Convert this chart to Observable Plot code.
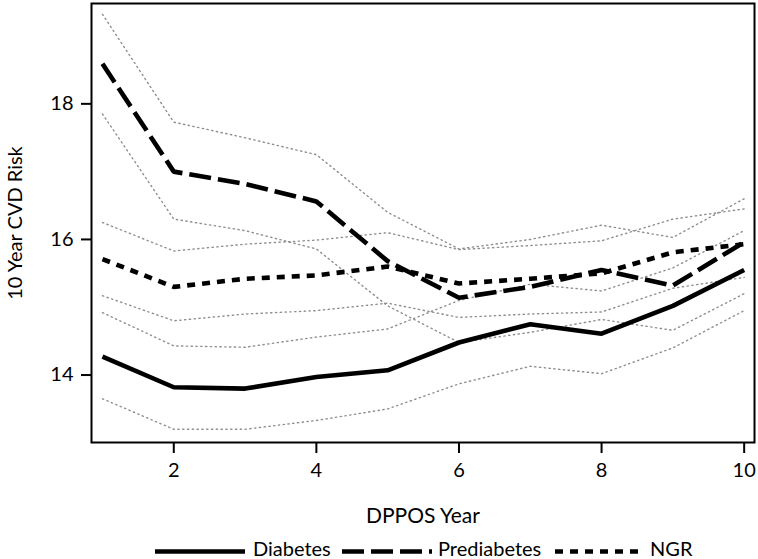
<!DOCTYPE html>
<html>
<head>
<meta charset="utf-8">
<script src="https://cdn.jsdelivr.net/npm/d3@7"></script>
<script src="https://cdn.jsdelivr.net/npm/@observablehq/plot@0.6"></script>
<style>
  body { margin: 0; background: white; font-family: Lato, "Open Sans", sans-serif; }
  #wrap { position: relative; width: 758px; height: 559px; overflow: hidden; }
  #legend { position: absolute; left: 0; top: 530px; width: 758px; height: 29px; }
  #legend .lab { position: absolute; top: 6px; font-size: 20px; line-height: 24px; color: black; white-space: nowrap; }
</style>
</head>
<body>
<div id="wrap">
  <div id="chart"></div>
  <div id="legend"></div>
</div>
<script>
const years = [1, 2, 3, 4, 5, 6, 7, 8, 9, 10];
const diabetes      = [14.27, 13.82, 13.80, 13.97, 14.07, 14.48, 14.75, 14.61, 15.02, 15.55];
const prediabetes   = [18.59, 17.00, 16.82, 16.56, 15.68, 15.14, 15.30, 15.55, 15.32, 15.96];
const ngr           = [15.71, 15.30, 15.42, 15.47, 15.60, 15.35, 15.42, 15.50, 15.81, 15.93];
const diabetesUpper    = [14.92, 14.43, 14.41, 14.56, 14.68, 15.10, 15.34, 15.24, 15.58, 16.13];
const diabetesLower    = [13.65, 13.20, 13.20, 13.33, 13.50, 13.87, 14.13, 14.02, 14.40, 14.95];
const prediabetesUpper = [19.32, 17.73, 17.50, 17.25, 16.40, 15.86, 16.00, 16.21, 16.03, 16.60];
const prediabetesLower = [17.85, 16.30, 16.13, 15.86, 15.02, 14.48, 14.63, 14.82, 14.66, 15.20];
const ngrUpper         = [16.25, 15.83, 15.93, 15.99, 16.10, 15.85, 15.91, 15.98, 16.30, 16.45];
const ngrLower         = [15.17, 14.80, 14.90, 14.95, 15.06, 14.85, 14.90, 14.93, 15.28, 15.44];
const xTicks = [2, 4, 6, 8, 10];
const yTicks = [14, 16, 18];
const seriesNames = ["Diabetes", "Prediabetes", "NGR"];
const xLabel = "DPPOS Year";
const yLabel = "10 Year CVD Risk";

const dashes = {Diabetes: null, Prediabetes: "22,7", NGR: "8,7"};

const meanData = [];
[[seriesNames[0], diabetes], [seriesNames[1], prediabetes], [seriesNames[2], ngr]].forEach(([s, vals]) => {
  years.forEach((yr, i) => meanData.push({series: s, year: yr, value: vals[i]}));
});
const ciData = [];
[["DU", diabetesUpper], ["DL", diabetesLower], ["PU", prediabetesUpper], ["PL", prediabetesLower], ["NU", ngrUpper], ["NL", ngrLower]].forEach(([s, vals]) => {
  years.forEach((yr, i) => ciData.push({series: s, year: yr, value: vals[i]}));
});

const chart = Plot.plot({
  width: 758,
  height: 530,
  marginLeft: 91,
  marginRight: 4,
  marginTop: 3,
  marginBottom: 88,
  style: {fontFamily: "Lato, 'Open Sans', sans-serif", fontSize: "20px", color: "black", background: "white"},
  x: {domain: [0.846, 10.145]},
  y: {domain: [13.005, 19.48]},
  marks: [
    Plot.line(ciData, {x: "year", y: "value", z: "series", stroke: "#8f8f8f", strokeWidth: 1.4, strokeDasharray: "1.3,3.5"}),
    ...seriesNames.map(s => Plot.line(meanData.filter(d => d.series === s), {
      x: "year", y: "value", stroke: "black", strokeWidth: 4.6,
      strokeDasharray: dashes[s], strokeLinejoin: "miter", strokeLinecap: "butt"
    })),
    Plot.frame({stroke: "black", strokeWidth: 2}),
    Plot.axisX({ticks: xTicks, tickFormat: d => String(d), tickSize: 11, tickPadding: 9, strokeWidth: 2, fontSize: 20, label: null}),
    Plot.axisY({ticks: yTicks, tickFormat: d => String(d), tickSize: 10, tickPadding: 8, strokeWidth: 2, fontSize: 20, label: null}),
    Plot.text([xLabel], {frameAnchor: "bottom", dy: 80, fontSize: 21, text: d => d}),
    Plot.text([yLabel], {frameAnchor: "left", textAnchor: "middle", dx: -76, rotate: -90, fontSize: 20, text: d => d})
  ]
});
document.getElementById("chart").appendChild(chart);

// legend
const legendItems = [
  {name: seriesNames[0], lineX: 155, textX: 253},
  {name: seriesNames[1], lineX: 342, textX: 438},
  {name: seriesNames[2], lineX: 555, textX: 650}
];
const legend = document.getElementById("legend");
const ns = "http://www.w3.org/2000/svg";
const lsvg = document.createElementNS(ns, "svg");
lsvg.setAttribute("width", 758);
lsvg.setAttribute("height", 29);
lsvg.style.position = "absolute";
lsvg.style.left = "0px";
lsvg.style.top = "0px";
legend.appendChild(lsvg);
legendItems.forEach(it => {
  const ln = document.createElementNS(ns, "line");
  ln.setAttribute("x1", it.lineX);
  ln.setAttribute("x2", it.lineX + 90);
  ln.setAttribute("y1", 21.5);
  ln.setAttribute("y2", 21.5);
  ln.setAttribute("stroke", "black");
  ln.setAttribute("stroke-width", 4.6);
  if (dashes[it.name]) ln.setAttribute("stroke-dasharray", dashes[it.name]);
  lsvg.appendChild(ln);
  const t = document.createElement("div");
  t.className = "lab";
  t.style.left = it.textX + "px";
  t.textContent = it.name;
  legend.appendChild(t);
});
</script>
</body>
</html>
